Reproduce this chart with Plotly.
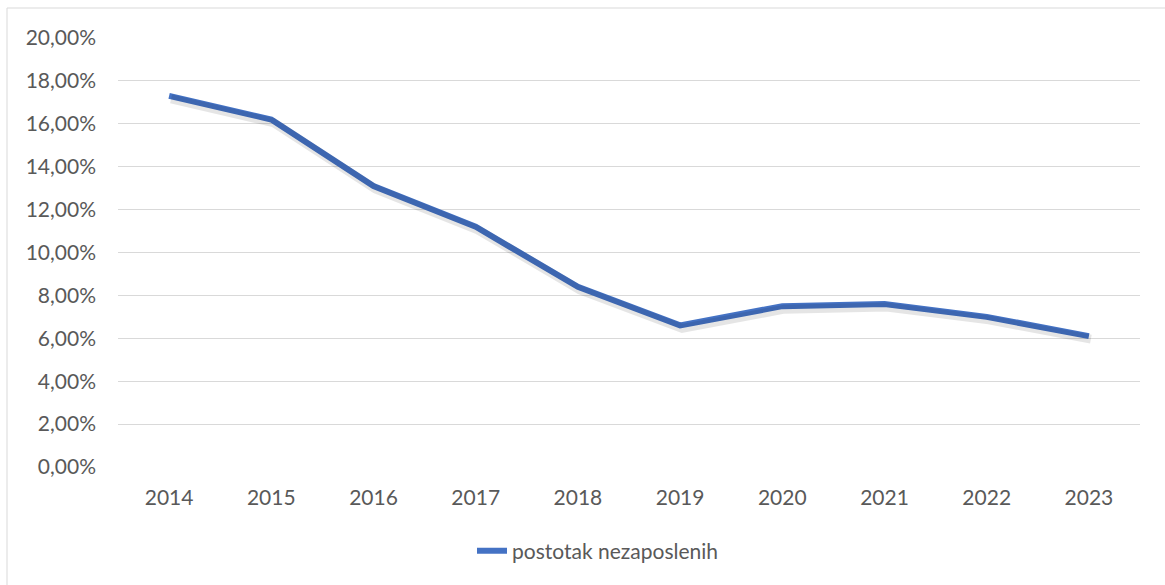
import plotly.graph_objects as go

years = ["2014", "2015", "2016", "2017", "2018", "2019", "2020", "2021", "2022", "2023"]
unemployment = [0.173, 0.162, 0.131, 0.112, 0.084, 0.066, 0.075, 0.076, 0.070, 0.061]
series_name = "postotak nezaposlenih"
y_ticks = [0, 0.02, 0.04, 0.06, 0.08, 0.10, 0.12, 0.14, 0.16, 0.18, 0.20]

W, H = 1165, 585
L, R, T, B = 118, 25, 38, 118
pw = W - L - R
ph = H - T - B

font = dict(family="Lato, 'Open Sans', sans-serif", size=21, color="#595959")

# soft drop shadow (offset a couple of pixels down/right)
dx = 2.0 / (pw / 10.0)
dy = 3.0 / ph * 0.20

fig = go.Figure()
fig.add_trace(go.Scatter(
    x=years, y=unemployment, mode="lines", showlegend=False, hoverinfo="skip",
    line=dict(color="rgba(0,0,0,0.10)", width=9),
    xaxis="x2", yaxis="y2",
))
fig.add_trace(go.Scatter(
    x=years, y=unemployment, mode="lines", name=series_name,
    line=dict(color="#4472C4", width=6, shape="linear"),
))

fig.update_layout(
    width=W, height=H,
    margin=dict(l=L, r=R, t=T, b=B, autoexpand=False),
    paper_bgcolor="white", plot_bgcolor="white",
    font=font,
    separators=",.",
    showlegend=True,
    legend=dict(
        orientation="h", x=(472 - L) / pw, xanchor="left",
        y=(H - 551 - B) / ph, yanchor="middle",
        font=font, bgcolor="rgba(0,0,0,0)",
    ),
    xaxis=dict(
        type="category", range=[-0.5, 9.5], showgrid=False,
        showline=False, zeroline=False, ticks="",
        ticklabelstandoff=16, tickfont=font,
    ),
    yaxis=dict(
        range=[0, 0.20], tickvals=y_ticks, tickformat=".2%",
        showgrid=True, gridcolor="#D9D9D9", gridwidth=1,
        zeroline=False, showline=False, ticks="",
        ticklabelstandoff=21, tickfont=font,
    ),
    xaxis2=dict(
        type="category", range=[-0.5 - dx, 9.5 - dx], overlaying="x",
        visible=False, showgrid=False,
    ),
    yaxis2=dict(
        range=[dy, 0.20 + dy], overlaying="y",
        visible=False, showgrid=False,
    ),
    shapes=[dict(
        type="rect", xref="paper", yref="paper",
        x0=(7 - L) / pw, x1=(W + 5 - L) / pw,
        y0=(H - (H + 5) - B) / ph, y1=(H - 8 - B) / ph,
        line=dict(color="#D9D9D9", width=1), fillcolor="rgba(0,0,0,0)",
        layer="below",
    )],
)

fig.write_html(
    "out.html",
    config={"displayModeBar": False},
    post_script="document.body.style.margin='0';document.body.style.overflow='hidden';",
)
